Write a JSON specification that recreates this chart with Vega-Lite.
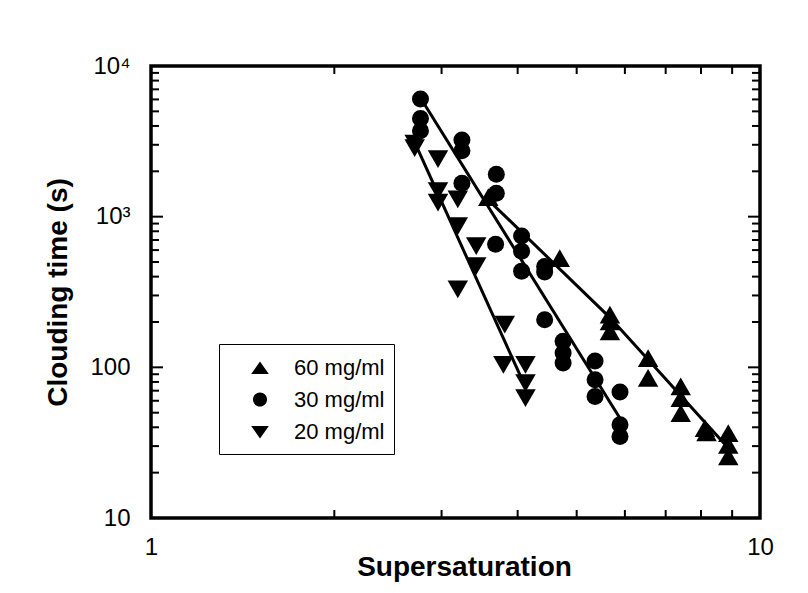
{
  "$schema": "https://vega.github.io/schema/vega-lite/v6.json",
  "width": 609,
  "height": 452,
  "autosize": "none",
  "padding": {"left": 151, "top": 66, "right": 48, "bottom": 75},
  "background": "white",
  "config": {
    "view": {"stroke": "black", "strokeWidth": 3.5},
    "axis": {
      "grid": false,
      "domain": false,
      "labelColor": "black",
      "labelFont": "Liberation Sans",
      "labelFontSize": 24,
      "titleFont": "Liberation Sans",
      "titleFontSize": 28,
      "titleFontWeight": "bold",
      "titleColor": "black"
    }
  },
  "datasets": {
    "pts": [
      {"series": "60 mg/ml", "x": 3.58, "y": 1350},
      {"series": "60 mg/ml", "x": 4.69, "y": 530},
      {"series": "60 mg/ml", "x": 5.67, "y": 224},
      {"series": "60 mg/ml", "x": 5.67, "y": 202},
      {"series": "60 mg/ml", "x": 5.67, "y": 173},
      {"series": "60 mg/ml", "x": 6.55, "y": 115},
      {"series": "60 mg/ml", "x": 6.55, "y": 85},
      {"series": "60 mg/ml", "x": 7.41, "y": 74.7},
      {"series": "60 mg/ml", "x": 7.41, "y": 62.5},
      {"series": "60 mg/ml", "x": 7.41, "y": 49.7},
      {"series": "60 mg/ml", "x": 8.12, "y": 39.5},
      {"series": "60 mg/ml", "x": 8.17, "y": 37},
      {"series": "60 mg/ml", "x": 8.87, "y": 36.6},
      {"series": "60 mg/ml", "x": 8.87, "y": 30.6},
      {"series": "60 mg/ml", "x": 8.87, "y": 25.6},
      {"series": "30 mg/ml", "x": 2.77, "y": 6030},
      {"series": "30 mg/ml", "x": 2.77, "y": 4490},
      {"series": "30 mg/ml", "x": 2.77, "y": 3715},
      {"series": "30 mg/ml", "x": 3.24, "y": 3223},
      {"series": "30 mg/ml", "x": 3.24, "y": 2734},
      {"series": "30 mg/ml", "x": 3.24, "y": 1667},
      {"series": "30 mg/ml", "x": 3.69, "y": 1913},
      {"series": "30 mg/ml", "x": 3.69, "y": 1430},
      {"series": "30 mg/ml", "x": 3.68, "y": 655},
      {"series": "30 mg/ml", "x": 4.06, "y": 743},
      {"series": "30 mg/ml", "x": 4.06, "y": 590},
      {"series": "30 mg/ml", "x": 4.06, "y": 435},
      {"series": "30 mg/ml", "x": 4.43, "y": 467},
      {"series": "30 mg/ml", "x": 4.43, "y": 429},
      {"series": "30 mg/ml", "x": 4.43, "y": 207},
      {"series": "30 mg/ml", "x": 4.75, "y": 149},
      {"series": "30 mg/ml", "x": 4.75, "y": 124.5},
      {"series": "30 mg/ml", "x": 4.75, "y": 107},
      {"series": "30 mg/ml", "x": 5.36, "y": 110},
      {"series": "30 mg/ml", "x": 5.36, "y": 82.8},
      {"series": "30 mg/ml", "x": 5.36, "y": 64.1},
      {"series": "30 mg/ml", "x": 5.89, "y": 68.5},
      {"series": "30 mg/ml", "x": 5.89, "y": 41.6},
      {"series": "30 mg/ml", "x": 5.89, "y": 34.8},
      {"series": "20 mg/ml", "x": 2.71, "y": 3050},
      {"series": "20 mg/ml", "x": 2.71, "y": 2850},
      {"series": "20 mg/ml", "x": 2.96, "y": 2405},
      {"series": "20 mg/ml", "x": 2.96, "y": 1479},
      {"series": "20 mg/ml", "x": 2.96, "y": 1240},
      {"series": "20 mg/ml", "x": 3.19, "y": 1303},
      {"series": "20 mg/ml", "x": 3.19, "y": 867},
      {"series": "20 mg/ml", "x": 3.42, "y": 638},
      {"series": "20 mg/ml", "x": 3.42, "y": 470},
      {"series": "20 mg/ml", "x": 3.19, "y": 329},
      {"series": "20 mg/ml", "x": 3.81, "y": 192},
      {"series": "20 mg/ml", "x": 3.79, "y": 104},
      {"series": "20 mg/ml", "x": 4.12, "y": 104},
      {"series": "20 mg/ml", "x": 4.12, "y": 78.7},
      {"series": "20 mg/ml", "x": 4.12, "y": 62.5}
    ],
    "fit": [
      {"series": "60 mg/ml", "x": 3.53, "y": 1365},
      {"series": "60 mg/ml", "x": 5.67, "y": 214},
      {"series": "60 mg/ml", "x": 8.93, "y": 28.3},
      {"series": "30 mg/ml", "x": 2.804, "y": 5675},
      {"series": "30 mg/ml", "x": 5.91, "y": 44.9},
      {"series": "20 mg/ml", "x": 2.742, "y": 2805},
      {"series": "20 mg/ml", "x": 4.11, "y": 75.5}
    ],
    "xminor": [{"v": 2}, {"v": 3}, {"v": 4}, {"v": 5}, {"v": 6}, {"v": 7}, {"v": 8}, {"v": 9}],
    "yminor": [
      {"v": 20}, {"v": 30}, {"v": 40}, {"v": 50}, {"v": 60}, {"v": 70}, {"v": 80}, {"v": 90},
      {"v": 200}, {"v": 300}, {"v": 400}, {"v": 500}, {"v": 600}, {"v": 700}, {"v": 800}, {"v": 900},
      {"v": 2000}, {"v": 3000}, {"v": 4000}, {"v": 5000}, {"v": 6000}, {"v": 7000}, {"v": 8000}, {"v": 9000}
    ],
    "ymajor": [{"v": 100}, {"v": 1000}]
  },
  "layer": [
    {
      "data": {"name": "fit"},
      "mark": {"type": "line", "color": "black", "strokeWidth": 3},
      "encoding": {
        "x": {
          "field": "x", "type": "quantitative",
          "scale": {"type": "log", "domain": [1, 10], "nice": false},
          "axis": {
            "orient": "bottom", "values": [1, 10], "ticks": false,
            "labelPadding": 17, "labelFlush": false,
            "labelExpr": "datum.value == 1 ? '1' : '10'",
            "title": "Supersaturation", "titleX": 313, "titleY": 57,
            "titleBaseline": "alphabetic"
          }
        },
        "y": {
          "field": "y", "type": "quantitative",
          "scale": {"type": "log", "domain": [10, 10000], "nice": false},
          "axis": {
            "orient": "left", "values": [10, 100, 1000, 10000], "ticks": false,
            "labelPadding": 21, "labelFlush": false,
            "labelExpr": "datum.value == 10 ? '10' : datum.value == 100 ? '100' : datum.value == 1000 ? '10³' : '10⁴'",
            "title": "Clouding time (s)", "titleX": -84.5,
            "titleBaseline": "alphabetic"
          }
        },
        "detail": {"field": "series", "type": "nominal"}
      }
    },
    {
      "data": {"name": "xminor"},
      "mark": {"type": "tick", "orient": "vertical", "color": "black", "size": 16, "thickness": 2, "clip": true, "opacity": 1},
      "encoding": {
        "x": {"field": "v", "type": "quantitative", "axis": null},
        "y": {"datum": 10, "type": "quantitative", "axis": null}
      }
    },
    {
      "data": {"name": "xminor"},
      "mark": {"type": "tick", "orient": "vertical", "color": "black", "size": 16, "thickness": 2, "clip": true, "opacity": 1},
      "encoding": {
        "x": {"field": "v", "type": "quantitative", "axis": null},
        "y": {"datum": 10000, "type": "quantitative", "axis": null}
      }
    },
    {
      "data": {"name": "yminor"},
      "mark": {"type": "tick", "orient": "horizontal", "color": "black", "size": 16, "thickness": 2, "clip": true, "opacity": 1},
      "encoding": {
        "y": {"field": "v", "type": "quantitative", "axis": null},
        "x": {"datum": 1, "type": "quantitative", "axis": null}
      }
    },
    {
      "data": {"name": "yminor"},
      "mark": {"type": "tick", "orient": "horizontal", "color": "black", "size": 16, "thickness": 2, "clip": true, "opacity": 1},
      "encoding": {
        "y": {"field": "v", "type": "quantitative", "axis": null},
        "x": {"datum": 10, "type": "quantitative", "axis": null}
      }
    },
    {
      "data": {"name": "ymajor"},
      "mark": {"type": "tick", "orient": "horizontal", "color": "black", "size": 24, "thickness": 2, "clip": true, "opacity": 1},
      "encoding": {
        "y": {"field": "v", "type": "quantitative", "axis": null},
        "x": {"datum": 1, "type": "quantitative", "axis": null}
      }
    },
    {
      "data": {"name": "ymajor"},
      "mark": {"type": "tick", "orient": "horizontal", "color": "black", "size": 24, "thickness": 2, "clip": true, "opacity": 1},
      "encoding": {
        "y": {"field": "v", "type": "quantitative", "axis": null},
        "x": {"datum": 10, "type": "quantitative", "axis": null}
      }
    },
    {
      "data": {"name": "pts"},
      "mark": {"type": "point", "filled": true, "color": "black", "opacity": 1, "strokeWidth": 0},
      "encoding": {
        "x": {"field": "x", "type": "quantitative", "axis": null},
        "y": {"field": "y", "type": "quantitative", "axis": null},
        "shape": {
          "field": "series", "type": "nominal",
          "scale": {"domain": ["60 mg/ml", "30 mg/ml", "20 mg/ml"], "range": ["triangle-up", "circle", "triangle-down"]},
          "legend": null
        },
        "size": {
          "field": "series", "type": "nominal",
          "scale": {"type": "ordinal", "domain": ["60 mg/ml", "30 mg/ml", "20 mg/ml"], "range": [420, 289, 420]},
          "legend": null
        }
      }
    },
    {
      "data": {"name": "pts"},
      "mark": {"type": "point", "filled": false, "fill": "black", "stroke": "black", "strokeWidth": 3, "opacity": 0},
      "encoding": {
        "x": {"field": "x", "type": "quantitative", "axis": null},
        "y": {"field": "y", "type": "quantitative", "axis": null},
        "shape": {
          "field": "series", "type": "nominal",
          "scale": {
            "domain": ["60 mg/ml", "30 mg/ml", "20 mg/ml"],
            "range": [
              "M-2.19,0H2.19M0,-0.5L0.68,0.46L-0.68,0.46Z",
              "M-2.19,0H2.19M0.54,0A0.54,0.54,0,1,1,-0.54,0A0.54,0.54,0,1,1,0.54,0Z",
              "M-2.19,0H2.19M0,0.5L0.68,-0.46L-0.68,-0.46Z"
            ]
          },
          "legend": {
            "orient": "none", "legendX": 68, "legendY": 278, "title": null,
            "labelFont": "Liberation Sans", "labelFontSize": 22, "labelColor": "black",
            "symbolSize": 676, "symbolFillColor": "black", "symbolStrokeColor": "black",
            "symbolStrokeWidth": 3, "symbolOpacity": 1,
            "symbolOffset": 17, "labelOffset": 19.5,
            "strokeColor": "black", "fillColor": "white",
            "padding": 9.5, "rowPadding": 4.5
          }
        }
      }
    }
  ],
  "resolve": {
    "scale": {"shape": "independent", "size": "independent"},
    "axis": {"x": "independent", "y": "independent"}
  }
}
